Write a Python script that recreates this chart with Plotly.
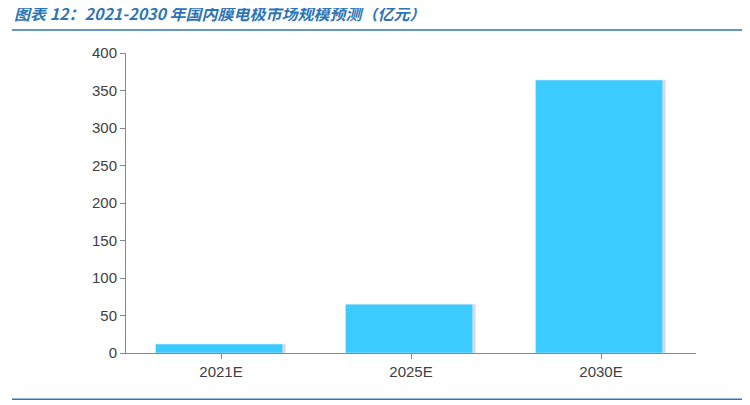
import plotly.graph_objects as go

# data
years = ['2021E', '2025E', '2030E']
market_size = [12, 65, 364]

bar_blue = '#3CCBFF'
line_blue = '#2E75B6'
axis_grey = '#878787'

fig = go.Figure()

# soft shadow behind each bar
fig.add_trace(go.Bar(
    x=years, y=market_size, marker_color='rgba(0,0,0,0.15)',
    width=0.67, offset=-0.33, hoverinfo='skip', showlegend=False,
))
fig.add_trace(go.Bar(
    x=years, y=market_size, marker_color=bar_blue,
    width=0.67, offset=-0.345, showlegend=False,
))

fig.update_layout(
    width=750, height=405,
    plot_bgcolor='white', paper_bgcolor='white',
    barmode='overlay',
    font=dict(family='Liberation Sans, Arial', color='#333333', size=14),
    margin=dict(l=118, r=62, t=45, b=60),
    xaxis=dict(showline=True, linecolor=axis_grey, ticks='outside', tickcolor=axis_grey,
               ticklen=5, tickfont=dict(size=15, color='#404040')),
    yaxis=dict(range=[0, 400], dtick=50, showgrid=False, showline=True, linecolor=axis_grey,
               ticks='outside', tickcolor=axis_grey, ticklen=5, zeroline=False,
               tickfont=dict(size=15, color='#404040')),
    shapes=[
        dict(type='line', xref='paper', yref='paper', x0=-0.2, x1=1.1, y0=1.077, y1=1.077,
             line=dict(color=line_blue, width=1.5)),
        dict(type='line', xref='paper', yref='paper', x0=-0.2, x1=1.1, y0=-0.154, y1=-0.154,
             line=dict(color=line_blue, width=1.5)),
    ],
    annotations=[
        dict(text='<b><i>图表 12：2021-2030 年国内膜电极市场规模预测（亿元）</i></b>',
             xref='paper', yref='paper', x=-0.2, y=1.085, xanchor='left', yanchor='bottom',
             showarrow=False, font=dict(family='Noto Sans CJK SC', size=16, color=line_blue)),
    ],
)

fig.write_html("out.html")
